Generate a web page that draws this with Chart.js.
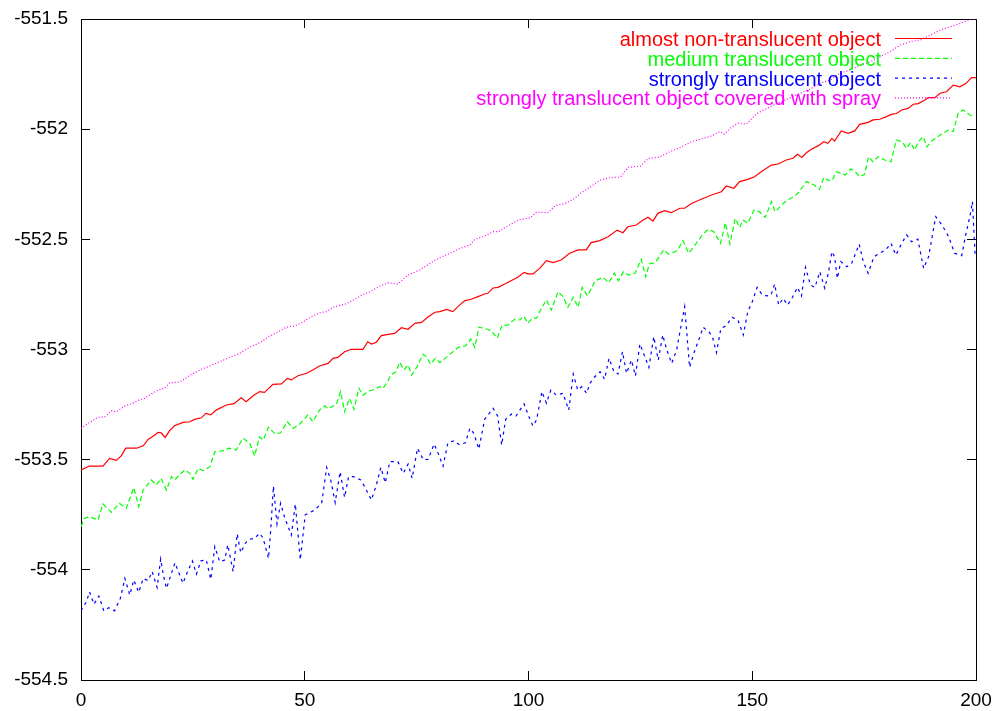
<!DOCTYPE html>
<html>
<head>
<meta charset="utf-8">
<title>translucent objects</title>
<script src="https://cdn.jsdelivr.net/npm/chart.js@4.4.1/dist/chart.umd.min.js"></script>
<style>
  body { margin: 0; background: #fff; }
  canvas { display: block; }
</style>
</head>
<body>
<canvas id="myChart" width="999" height="711"></canvas>
<script>
/* data */
var xTicks = [0, 50, 100, 150, 200];
var yTicks = [-554.5, -554, -553.5, -553, -552.5, -552, -551.5];

var seriesLabels = [
  "almost non-translucent object",
  "medium translucent object",
  "strongly translucent object",
  "strongly translucent object covered with spray"
];

var redX = [0,1.9,4.9,6.4,7.9,9.0,10.0,12.4,13.9,15.0,16.5,17.2,17.9,18.8,19.8,20.9,22.8,24.3,25.4,26.9,27.9,29.0,30.2,32.5,34.2,35.8,36.9,38.4,39.9,41.0,42.9,44.8,46.1,47.0,48.5,50.4,51.8,53.3,55.2,56.3,57.4,58.9,60.4,63.0,64.1,64.9,66.0,67.1,69.0,70.1,71.6,73.1,74.6,76.1,77.6,79.1,80.2,81.7,83.1,84.4,85.7,87.2,88.7,90.2,90.9,92.1,93.2,94.7,97.6,99.0,99.9,101.0,102.5,104.0,105.5,107.3,109.2,111.1,112.9,114.0,115.9,117.8,119.8,121.1,122.2,124.1,125.6,126.7,127.8,128.9,130.4,131.9,133.8,134.9,136.4,138.6,140.9,143.1,144.2,145.9,147.2,149.0,150.5,152.4,154.3,155.8,157.6,159.1,160.1,161.1,162.1,163.2,164.7,166.0,166.9,167.8,168.4,169.9,171.4,172.9,174.0,175.9,177.0,178.5,180.0,181.1,182.2,183.4,184.8,186.0,187.1,188.6,189.3,190.8,192.0,193.4,194.9,196.4,197.7,199.0,200.0];
var redY = [-553.547,-553.529,-553.529,-553.494,-553.503,-553.483,-553.448,-553.448,-553.437,-553.408,-553.388,-553.376,-553.378,-553.399,-553.368,-553.346,-553.331,-553.328,-553.317,-553.310,-553.290,-553.297,-553.275,-553.252,-553.246,-553.219,-553.237,-553.211,-553.191,-553.195,-553.158,-553.156,-553.131,-553.138,-553.119,-553.108,-553.093,-553.075,-553.063,-553.040,-553.036,-553.010,-552.999,-552.999,-552.965,-552.975,-552.967,-552.937,-552.930,-552.927,-552.901,-552.908,-552.881,-552.877,-552.851,-552.831,-552.828,-552.818,-552.828,-552.802,-552.779,-552.772,-552.760,-552.748,-552.745,-552.721,-552.718,-552.703,-552.672,-552.650,-552.657,-552.657,-552.632,-552.597,-552.606,-552.594,-552.563,-552.548,-552.548,-552.515,-552.506,-552.488,-552.458,-552.470,-552.443,-552.435,-552.412,-552.400,-552.417,-552.382,-552.370,-552.379,-552.359,-552.359,-552.337,-552.318,-552.299,-552.284,-552.258,-552.268,-552.238,-552.228,-552.216,-552.188,-552.163,-552.158,-552.140,-552.132,-552.114,-552.128,-552.107,-552.091,-552.076,-552.057,-552.064,-552.042,-552.054,-552.008,-552.019,-552.008,-551.978,-551.969,-551.958,-551.955,-551.943,-551.933,-551.929,-551.913,-551.906,-551.887,-551.884,-551.868,-551.857,-551.857,-551.837,-551.830,-551.800,-551.808,-551.793,-551.766,-551.766];

var greenX = [0,0.8,1.9,3.8,4.9,6.8,8.6,10.1,11.8,12.9,13.9,15.7,16.8,17.9,19.1,20.2,20.9,22.0,23.2,24.3,25.0,26.2,27.3,28.8,29.9,32.1,33.0,34.7,36.2,37.7,38.8,39.9,40.7,41.9,43.4,44.6,46.1,47.4,48.9,50.7,51.8,53.3,54.5,55.2,57.1,58.0,58.9,60.0,61.0,62.1,63.0,64.5,65.6,66.7,67.5,68.5,69.2,70.4,71.2,72.2,73.1,73.9,75.1,76.4,77.2,78.1,79.2,80.2,82.0,83.1,84.3,85.9,87.1,88.0,88.9,90.2,91.7,93.0,94.1,95.4,96.9,98.1,98.9,99.9,100.8,101.8,102.9,104.0,105.1,106.6,107.7,108.8,110.0,111.1,112.0,113.2,114.9,116.7,117.9,119.2,120.1,121.2,122.3,123.8,125.2,126.2,127.0,128.3,130.2,131.3,133.2,134.5,135.8,137.5,139.0,140.1,141.4,142.9,144.0,145.0,146.2,147.2,147.9,149.0,150.4,151.6,152.9,154.3,155.1,156.6,157.6,159.1,160.2,162.1,163.8,165.0,166.0,166.9,167.8,168.8,169.9,170.8,172.0,172.9,174.0,175.1,176.0,177.0,178.1,179.6,181.0,182.2,183.5,184.5,185.4,186.3,187.1,188.2,189.0,190.1,192.0,193.8,194.9,196.0,197.1,198.6,199.7];
var greenY = [-553.804,-553.766,-553.759,-553.774,-553.701,-553.739,-553.698,-553.721,-553.627,-553.713,-553.638,-553.592,-553.615,-553.585,-553.638,-553.577,-553.592,-553.570,-553.547,-553.562,-553.589,-553.539,-553.550,-553.532,-553.464,-553.459,-553.448,-553.456,-553.403,-553.425,-553.483,-553.396,-553.411,-553.353,-553.384,-553.378,-553.328,-553.358,-553.338,-553.297,-553.328,-553.275,-553.256,-553.270,-553.247,-553.191,-553.282,-553.222,-553.271,-553.176,-553.207,-553.187,-553.181,-553.169,-553.176,-553.146,-553.116,-553.101,-553.058,-553.093,-553.070,-553.116,-553.078,-553.022,-553.033,-553.066,-553.040,-553.060,-553.029,-553.010,-552.990,-552.984,-552.952,-552.990,-552.899,-552.904,-552.915,-552.949,-552.889,-552.889,-552.863,-552.866,-552.848,-552.881,-552.858,-552.858,-552.813,-552.775,-552.821,-552.738,-552.760,-552.808,-552.763,-552.808,-552.718,-552.757,-552.688,-552.672,-552.697,-552.654,-552.688,-552.647,-552.662,-552.654,-552.591,-552.670,-552.612,-552.606,-552.548,-552.567,-552.552,-552.506,-552.563,-552.518,-552.476,-552.455,-552.465,-552.518,-552.425,-552.521,-552.405,-552.446,-552.412,-552.427,-552.367,-552.375,-552.400,-552.329,-552.375,-552.344,-552.325,-552.309,-552.291,-552.238,-552.253,-552.273,-552.219,-552.231,-552.234,-552.193,-552.201,-552.208,-552.181,-552.190,-552.216,-552.205,-552.125,-552.148,-552.125,-552.140,-552.148,-552.049,-552.057,-552.087,-552.060,-552.095,-552.057,-552.034,-552.080,-552.054,-552.027,-552.004,-552.011,-551.928,-551.913,-551.936,-551.943];

var blueX = [0,1.2,1.9,2.9,4.0,5.1,6.2,7.5,8.8,9.8,10.9,11.8,12.9,13.9,15.0,15.9,17.0,17.8,18.4,19.1,21.0,22.8,23.7,24.9,25.8,26.8,28.0,29.0,29.9,31.0,32.1,32.8,34.0,34.9,35.7,36.7,37.5,38.8,39.9,40.7,41.9,42.4,43.0,43.8,44.6,45.5,47.0,47.9,49.0,50.1,51.1,52.3,53.8,54.9,55.8,56.8,57.9,58.9,59.8,60.9,62.5,63.4,64.9,66.0,67.0,68.0,69.0,70.8,72.0,73.1,74.0,75.2,76.5,77.6,78.9,79.8,80.9,82.0,83.4,84.6,85.9,86.9,87.8,88.9,90.2,92.1,93.1,94.0,94.9,96.2,97.2,99.0,100.1,101.0,101.8,103.0,104.0,105.0,106.2,107.7,109.0,110.0,111.0,111.9,113.0,113.7,114.7,116.0,117.0,118.0,119.1,120.0,121.0,121.9,123.0,123.9,124.9,126.0,126.9,128.0,129.0,130.0,130.9,132.0,133.1,134.2,134.9,136.0,137.2,138.3,139.0,140.3,141.1,142.0,143.0,144.1,145.5,146.8,148.0,149.0,150.0,151.1,152.1,153.2,154.2,155.0,155.9,156.9,157.9,159.0,160.1,161.0,161.9,163.0,164.0,165.1,166.2,167.0,167.8,168.4,169.0,169.8,171.1,172.2,173.9,174.8,175.9,177.2,178.5,179.8,181.0,182.1,183.4,184.5,185.6,187.0,188.3,189.4,191.0,192.4,193.9,195.2,196.8,197.7,198.7,199.2,199.8];
var blueY = [-554.186,-554.145,-554.100,-554.156,-554.119,-554.186,-554.172,-554.186,-554.129,-554.039,-554.114,-554.046,-554.102,-554.039,-554.049,-554.008,-554.080,-553.951,-554.024,-554.084,-553.968,-554.061,-554.013,-553.960,-554.019,-553.959,-553.955,-554.043,-553.895,-553.963,-553.956,-553.887,-554.008,-553.837,-553.922,-553.880,-553.862,-553.857,-553.834,-553.857,-553.948,-553.819,-553.620,-553.792,-553.698,-553.762,-553.842,-553.701,-553.955,-553.751,-553.740,-553.728,-553.695,-553.535,-553.592,-553.695,-553.555,-553.671,-553.577,-553.577,-553.592,-553.623,-553.683,-553.615,-553.535,-553.605,-553.509,-553.509,-553.562,-553.520,-553.585,-553.448,-553.501,-553.498,-553.429,-553.471,-553.529,-553.423,-553.414,-553.433,-553.423,-553.358,-553.381,-553.452,-553.317,-553.267,-553.302,-553.433,-553.317,-553.293,-553.302,-553.247,-553.305,-553.347,-553.320,-553.191,-553.244,-553.184,-553.207,-553.199,-553.275,-553.111,-553.184,-553.169,-553.199,-553.154,-553.126,-553.101,-553.135,-553.040,-553.101,-553.111,-553.010,-553.108,-553.048,-553.120,-552.975,-553.033,-553.081,-552.942,-553.048,-552.934,-553.002,-553.063,-553.002,-552.881,-552.806,-553.081,-553.002,-552.942,-552.899,-552.919,-552.942,-553.014,-552.904,-552.893,-552.854,-552.866,-552.934,-552.828,-552.783,-552.718,-552.748,-552.757,-552.753,-552.703,-552.798,-552.768,-552.798,-552.763,-552.718,-552.757,-552.627,-552.707,-552.718,-552.647,-552.722,-552.654,-552.556,-552.579,-552.677,-552.601,-552.624,-552.609,-552.522,-552.601,-552.654,-552.579,-552.563,-552.548,-552.518,-552.571,-552.518,-552.480,-552.511,-552.499,-552.632,-552.579,-552.397,-552.435,-552.488,-552.563,-552.574,-552.480,-552.390,-552.329,-552.571];

var pinkX = [0,1.6,3.8,5.3,6.8,7.9,9.8,11.2,12.7,14.2,15.3,17.2,18.7,19.8,22.1,24.4,26.6,28.8,31.0,33.3,35.5,37.7,40.0,41.9,43.7,45.9,47.8,49.7,51.5,53.4,54.9,56.4,59.0,61.2,62.7,64.6,66.8,68.6,70.8,73.1,75.7,78.0,80.2,82.5,84.7,86.9,88.1,89.9,92.2,93.3,95.5,97.7,100.4,101.8,104.4,106.0,108.2,110.1,111.9,114.2,116.0,118.3,120.5,122.3,125.0,126.8,129.1,131.3,133.8,136.4,139.0,140.9,142.7,143.8,145.3,146.8,148.7,150.9,154.0,156.2,158.5,160.7,162.9,165.2,167.4,169.6,171.9,174.1,176.4,178.6,180.8,183.1,185.3,187.6,189.8,192.0,194.3,196.5,198.8,200.0];
var pinkY = [-553.358,-553.335,-553.308,-553.306,-553.278,-553.283,-553.256,-553.247,-553.232,-553.222,-553.207,-553.184,-553.176,-553.151,-553.148,-553.116,-553.093,-553.075,-553.055,-553.035,-553.017,-552.990,-552.969,-552.942,-552.924,-552.899,-552.893,-552.874,-552.851,-552.833,-552.828,-552.808,-552.794,-552.772,-552.753,-552.738,-552.712,-552.697,-552.703,-552.662,-552.639,-552.609,-552.583,-552.563,-552.541,-552.526,-552.499,-552.488,-552.465,-552.465,-552.438,-552.412,-552.402,-552.377,-552.379,-552.347,-552.337,-552.317,-552.287,-552.257,-552.231,-552.220,-552.218,-552.173,-552.168,-552.132,-552.128,-552.105,-552.084,-552.057,-552.042,-552.031,-552.011,-552.022,-551.992,-551.973,-551.977,-551.931,-551.898,-551.878,-551.857,-551.837,-551.818,-551.792,-551.777,-551.746,-551.731,-551.709,-551.694,-551.671,-551.648,-551.618,-551.603,-551.595,-551.573,-551.550,-551.535,-551.520,-551.500,-551.500];

var seriesColors = ["#ff0000", "#00ff00", "#0000ff", "#ff00ff"];
var seriesDash = [[], [5, 3], [3, 4], [1, 2]];

function toPoints(xs, ys){
	return xs.map(function(x, i){ return {x: x, y: ys[i]}; });
}

var seriesPoints = [
	toPoints(redX, redY),
	toPoints(greenX, greenY),
	toPoints(blueX, blueY),
	toPoints(pinkX, pinkY)
];

var datasets = seriesLabels.map(function(label, i){
	return {
		label: label,
		data: seriesPoints[i],
		borderColor: seriesColors[i],
		backgroundColor: seriesColors[i],
		borderWidth: 1.2,
		borderDash: seriesDash[i],
		pointRadius: 0,
		tension: 0,
		fill: false,
		xAxisID: 'x',
		yAxisID: 'y'
	};
});

var tickFont = {family: "'Liberation Sans', Arial, sans-serif", size: 19};

// gnuplot style: ticks pointing inward on all four sides
function axisGrid(){
	return {display: true, drawOnChartArea: false, drawTicks: true, tickLength: -9, color: '#000', lineWidth: 1};
}
var axisBorder = {display: true, color: '#000', width: 1};

// fixed box sizes so the plot area lands where the original has it
function fixSize(w, h){
	return function(s){
		if (w !== null) s.width = w;
		if (h !== null) s.height = h;
		s.paddingLeft = 0; s.paddingRight = 0;
		s.paddingTop = 0; s.paddingBottom = 0;
	};
}

/* legend drawn like gnuplot's: right-aligned text, sample line on the right */
var keyPlugin = {
	id: 'gnuKey',
	afterDraw: function(chart){
		var c = chart.ctx;
		c.save();
		c.font = "20px 'Liberation Sans', Arial, sans-serif";
		c.textAlign = 'right';
		c.textBaseline = 'alphabetic';
		chart.data.datasets.forEach(function(ds, i){
			var y = 46 + 19.8 * i;
			c.fillStyle = ds.borderColor;
			c.fillText(ds.label, 881, y);
			c.beginPath();
			c.strokeStyle = ds.borderColor;
			c.lineWidth = 1.2;
			c.setLineDash(ds.borderDash);
			c.moveTo(895, y - 7.5);
			c.lineTo(952, y - 7.5);
			c.stroke();
			c.setLineDash([]);
		});
		c.restore();
	}
};

var canvas = document.getElementById('myChart');
var ctx = canvas.getContext('2d');

var plot = new Chart(ctx, {
	type: 'line',
	data: {datasets: datasets},
	plugins: [keyPlugin],
	options: {
		responsive: false,
		animation: false,
		layout: {padding: 0},
		plugins: {
			legend: {display: false},
			tooltip: {enabled: false}
		},
		scales: {
			x: {
				type: 'linear', position: 'bottom',
				min: xTicks[0], max: xTicks[xTicks.length - 1],
				afterBuildTicks: function(s){ s.ticks = xTicks.map(function(v){ return {value: v}; }); },
				ticks: {color: '#000', font: tickFont, padding: 18, maxRotation: 0,
					callback: function(v){ return String(v); }},
				grid: axisGrid(), border: axisBorder,
				afterFit: fixSize(null, 31)
			},
			x2: {
				type: 'linear', position: 'top',
				min: xTicks[0], max: xTicks[xTicks.length - 1],
				afterBuildTicks: function(s){ s.ticks = xTicks.map(function(v){ return {value: v}; }); },
				ticks: {display: false},
				grid: axisGrid(), border: axisBorder,
				afterFit: fixSize(null, 19)
			},
			y: {
				type: 'linear', position: 'left',
				min: yTicks[0], max: yTicks[yTicks.length - 1],
				afterBuildTicks: function(s){ s.ticks = yTicks.map(function(v){ return {value: v}; }); },
				ticks: {color: '#000', font: tickFont, padding: 22,
					callback: function(v){ return String(v); }},
				grid: axisGrid(), border: axisBorder,
				afterFit: fixSize(81, null)
			},
			y2: {
				type: 'linear', position: 'right',
				min: yTicks[0], max: yTicks[yTicks.length - 1],
				afterBuildTicks: function(s){ s.ticks = yTicks.map(function(v){ return {value: v}; }); },
				ticks: {display: false},
				grid: axisGrid(), border: axisBorder,
				afterFit: fixSize(23, null)
			}
		}
	}
});
</script>
</body>
</html>
